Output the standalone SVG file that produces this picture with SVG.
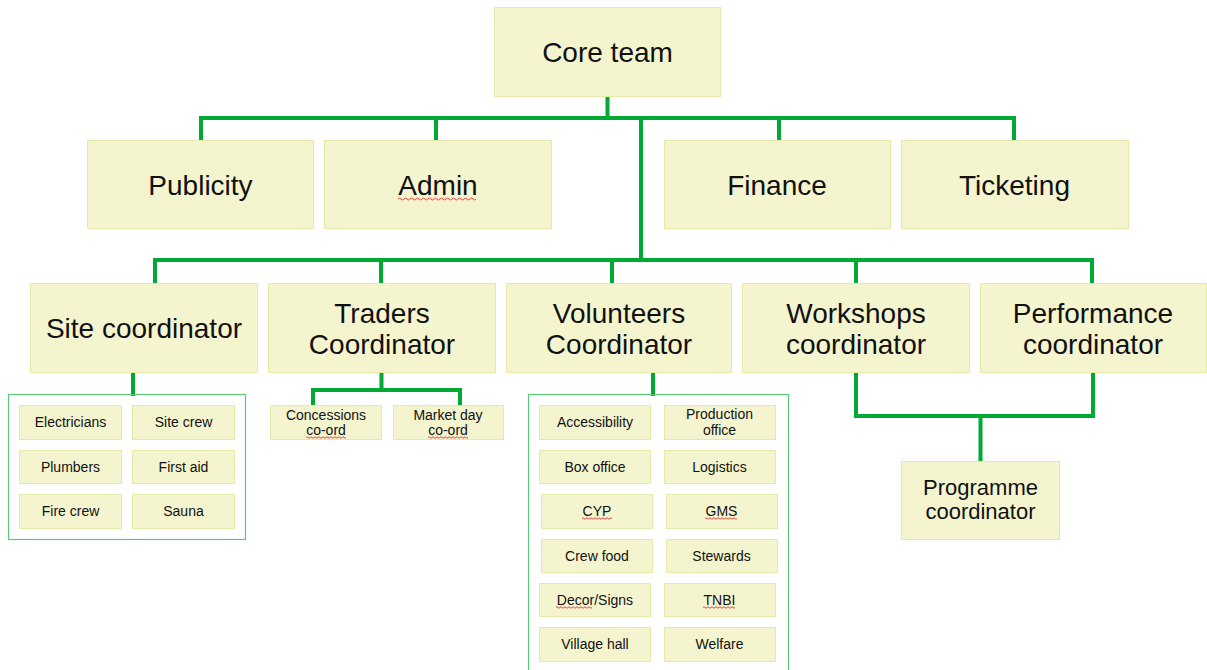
<svg xmlns="http://www.w3.org/2000/svg" width="1207" height="670" viewBox="0 0 1207 670">
<style>
.box{fill:#f4f5cf;stroke:#e6eaa8;stroke-width:1}
.grp{fill:none;stroke:#5cc679;stroke-width:1.2}
.ln{fill:none;stroke:#00a933;stroke-width:4;stroke-linejoin:miter;stroke-linecap:square}
text{font-family:"Liberation Sans",Arial,sans-serif;fill:#111;text-anchor:middle}
.l1{font-size:28px}
.l2{font-size:22px}
.s{font-size:14px}
.sq{fill:none;stroke:#e03030;stroke-width:0.9}
</style>
<rect width="1207" height="670" fill="#ffffff"/>
<g id="connectors">
<path class="ln" d="M607.5 97 V118 M201 140 V118 H1014 V140 M436 118 V140 M779 118 V140 M641 118 V260 M155 283 V260 H1092 V283 M381 260 V283 M612 260 V283 M856 260 V283"/>
<path class="ln" d="M133 373 V394 M381.5 373 V390 M313 405 V390 H460 V405 M653 373 V394"/>
<path class="ln" d="M856 373 V416 H1093 V373 M980.5 416 V460"/>
</g>
<g id="core-team"><rect class="box" x="494.5" y="7.5" width="226" height="89"/><text class="l1" x="607.5" y="62">Core team</text></g>
<g id="publicity"><rect class="box" x="87.5" y="140.5" width="226" height="88"/><text class="l1" x="200.5" y="195">Publicity</text></g>
<g id="admin"><rect class="box" x="324.5" y="140.5" width="227" height="88"/><text class="l1" x="438" y="195">Admin</text><path class="sq" d="M398 199 q1.5 -2 3 0 t3 0 t3 0 t3 0 t3 0 t3 0 t3 0 t3 0 t3 0 t3 0 t3 0 t3 0 t3 0 t3 0 t3 0 t3 0 t3 0 t3 0 t3 0 t3 0 t3 0 t3 0 t3 0 t3 0 t3 0 t3 0"/></g>
<g id="finance"><rect class="box" x="664.5" y="140.5" width="226" height="88"/><text class="l1" x="777" y="195">Finance</text></g>
<g id="ticketing"><rect class="box" x="901.5" y="140.5" width="227" height="88"/><text class="l1" x="1014.5" y="195">Ticketing</text></g>
<g id="site-coordinator"><rect class="box" x="30.5" y="283.5" width="227" height="89"/><text class="l1" x="144" y="338">Site coordinator</text></g>
<g id="traders-coordinator"><rect class="box" x="268.5" y="283.5" width="227" height="89"/><text class="l1" x="382" y="323">Traders</text><text class="l1" x="382" y="354">Coordinator</text></g>
<g id="volunteers-coordinator"><rect class="box" x="506.5" y="283.5" width="225" height="89"/><text class="l1" x="619" y="323">Volunteers</text><text class="l1" x="619" y="354">Coordinator</text></g>
<g id="workshops-coordinator"><rect class="box" x="742.5" y="283.5" width="227" height="89"/><text class="l1" x="856" y="323">Workshops</text><text class="l1" x="856" y="354">coordinator</text></g>
<g id="performance-coordinator"><rect class="box" x="980.5" y="283.5" width="226" height="89"/><text class="l1" x="1093" y="323">Performance</text><text class="l1" x="1093" y="354">coordinator</text></g>
<g id="programme-coordinator"><rect class="box" x="901.5" y="461.5" width="158" height="78"/><text class="l2" x="980.5" y="495">Programme</text><text class="l2" x="980.5" y="519">coordinator</text></g>
<g id="site-group">
<rect class="grp" x="8.5" y="394.5" width="237" height="145"/>
<g id="electricians"><rect class="box" x="19.5" y="405.5" width="102" height="34"/><text class="s" x="70.5" y="427">Electricians</text></g>
<g id="site-crew"><rect class="box" x="132.5" y="405.5" width="102" height="34"/><text class="s" x="183.5" y="427">Site crew</text></g>
<g id="plumbers"><rect class="box" x="19.5" y="450.5" width="102" height="33"/><text class="s" x="70.5" y="471.5">Plumbers</text></g>
<g id="first-aid"><rect class="box" x="132.5" y="450.5" width="102" height="33"/><text class="s" x="183.5" y="471.5">First aid</text></g>
<g id="fire-crew"><rect class="box" x="19.5" y="494.5" width="102" height="34"/><text class="s" x="70.5" y="516">Fire crew</text></g>
<g id="sauna"><rect class="box" x="132.5" y="494.5" width="102" height="34"/><text class="s" x="183.5" y="516">Sauna</text></g>
</g>
<g id="concessions"><rect class="box" x="270.5" y="405.5" width="111" height="34"/><text class="s" x="326" y="419.5">Concessions</text><text class="s" x="326" y="435">co-ord</text><path class="sq" d="M306 437.5 q1 -1.5 2 0 t2 0 t2 0 t2 0 t2 0 t2 0 t2 0 t2 0 t2 0 t2 0 t2 0 t2 0 t2 0 t2 0 t2 0 t2 0 t2 0 t2 0 t2 0 t2 0"/></g>
<g id="market-day"><rect class="box" x="393.5" y="405.5" width="110" height="34"/><text class="s" x="448" y="419.5">Market day</text><text class="s" x="448" y="435">co-ord</text><path class="sq" d="M428 437.5 q1 -1.5 2 0 t2 0 t2 0 t2 0 t2 0 t2 0 t2 0 t2 0 t2 0 t2 0 t2 0 t2 0 t2 0 t2 0 t2 0 t2 0 t2 0 t2 0 t2 0 t2 0"/></g>
<g id="volunteers-group">
<rect class="grp" x="528.5" y="394.5" width="260" height="290"/>
<g id="accessibility"><rect class="box" x="539.5" y="405.5" width="111" height="34"/><text class="s" x="595" y="427">Accessibility</text></g>
<g id="production-office"><rect class="box" x="664.5" y="405.5" width="111" height="34"/><text class="s" x="719.5" y="419">Production</text><text class="s" x="719.5" y="434.5">office</text></g>
<g id="box-office"><rect class="box" x="539.5" y="450.5" width="111" height="33"/><text class="s" x="595" y="471.5">Box office</text></g>
<g id="logistics"><rect class="box" x="664.5" y="450.5" width="111" height="33"/><text class="s" x="719.5" y="471.5">Logistics</text></g>
<g id="cyp"><rect class="box" x="541.5" y="494.5" width="111" height="34"/><text class="s" x="597" y="516">CYP</text><path class="sq" d="M582 518.5 q1 -1.5 2 0 t2 0 t2 0 t2 0 t2 0 t2 0 t2 0 t2 0 t2 0 t2 0 t2 0 t2 0 t2 0 t2 0 t2 0"/></g>
<g id="gms"><rect class="box" x="666.5" y="494.5" width="111" height="34"/><text class="s" x="721.5" y="516">GMS</text><path class="sq" d="M705 518.5 q1 -1.5 2 0 t2 0 t2 0 t2 0 t2 0 t2 0 t2 0 t2 0 t2 0 t2 0 t2 0 t2 0 t2 0 t2 0 t2 0 t2 0"/></g>
<g id="crew-food"><rect class="box" x="541.5" y="539.5" width="111" height="33"/><text class="s" x="597" y="560.5">Crew food</text></g>
<g id="stewards"><rect class="box" x="666.5" y="539.5" width="111" height="33"/><text class="s" x="721.5" y="560.5">Stewards</text></g>
<g id="decor-signs"><rect class="box" x="539.5" y="583.5" width="111" height="33"/><text class="s" x="595" y="605">Decor/Signs</text><path class="sq" d="M556 607.5 q1 -1.5 2 0 t2 0 t2 0 t2 0 t2 0 t2 0 t2 0 t2 0 t2 0 t2 0 t2 0 t2 0 t2 0 t2 0 t2 0 t2 0 t2 0 t2 0"/></g>
<g id="tnbi"><rect class="box" x="664.5" y="583.5" width="111" height="33"/><text class="s" x="719.5" y="605">TNBI</text><path class="sq" d="M703 607.5 q1 -1.5 2 0 t2 0 t2 0 t2 0 t2 0 t2 0 t2 0 t2 0 t2 0 t2 0 t2 0 t2 0 t2 0 t2 0 t2 0 t2 0"/></g>
<g id="village-hall"><rect class="box" x="539.5" y="627.5" width="111" height="34"/><text class="s" x="595" y="649">Village hall</text></g>
<g id="welfare"><rect class="box" x="664.5" y="627.5" width="111" height="34"/><text class="s" x="719.5" y="649">Welfare</text></g>
</g>
</svg>
